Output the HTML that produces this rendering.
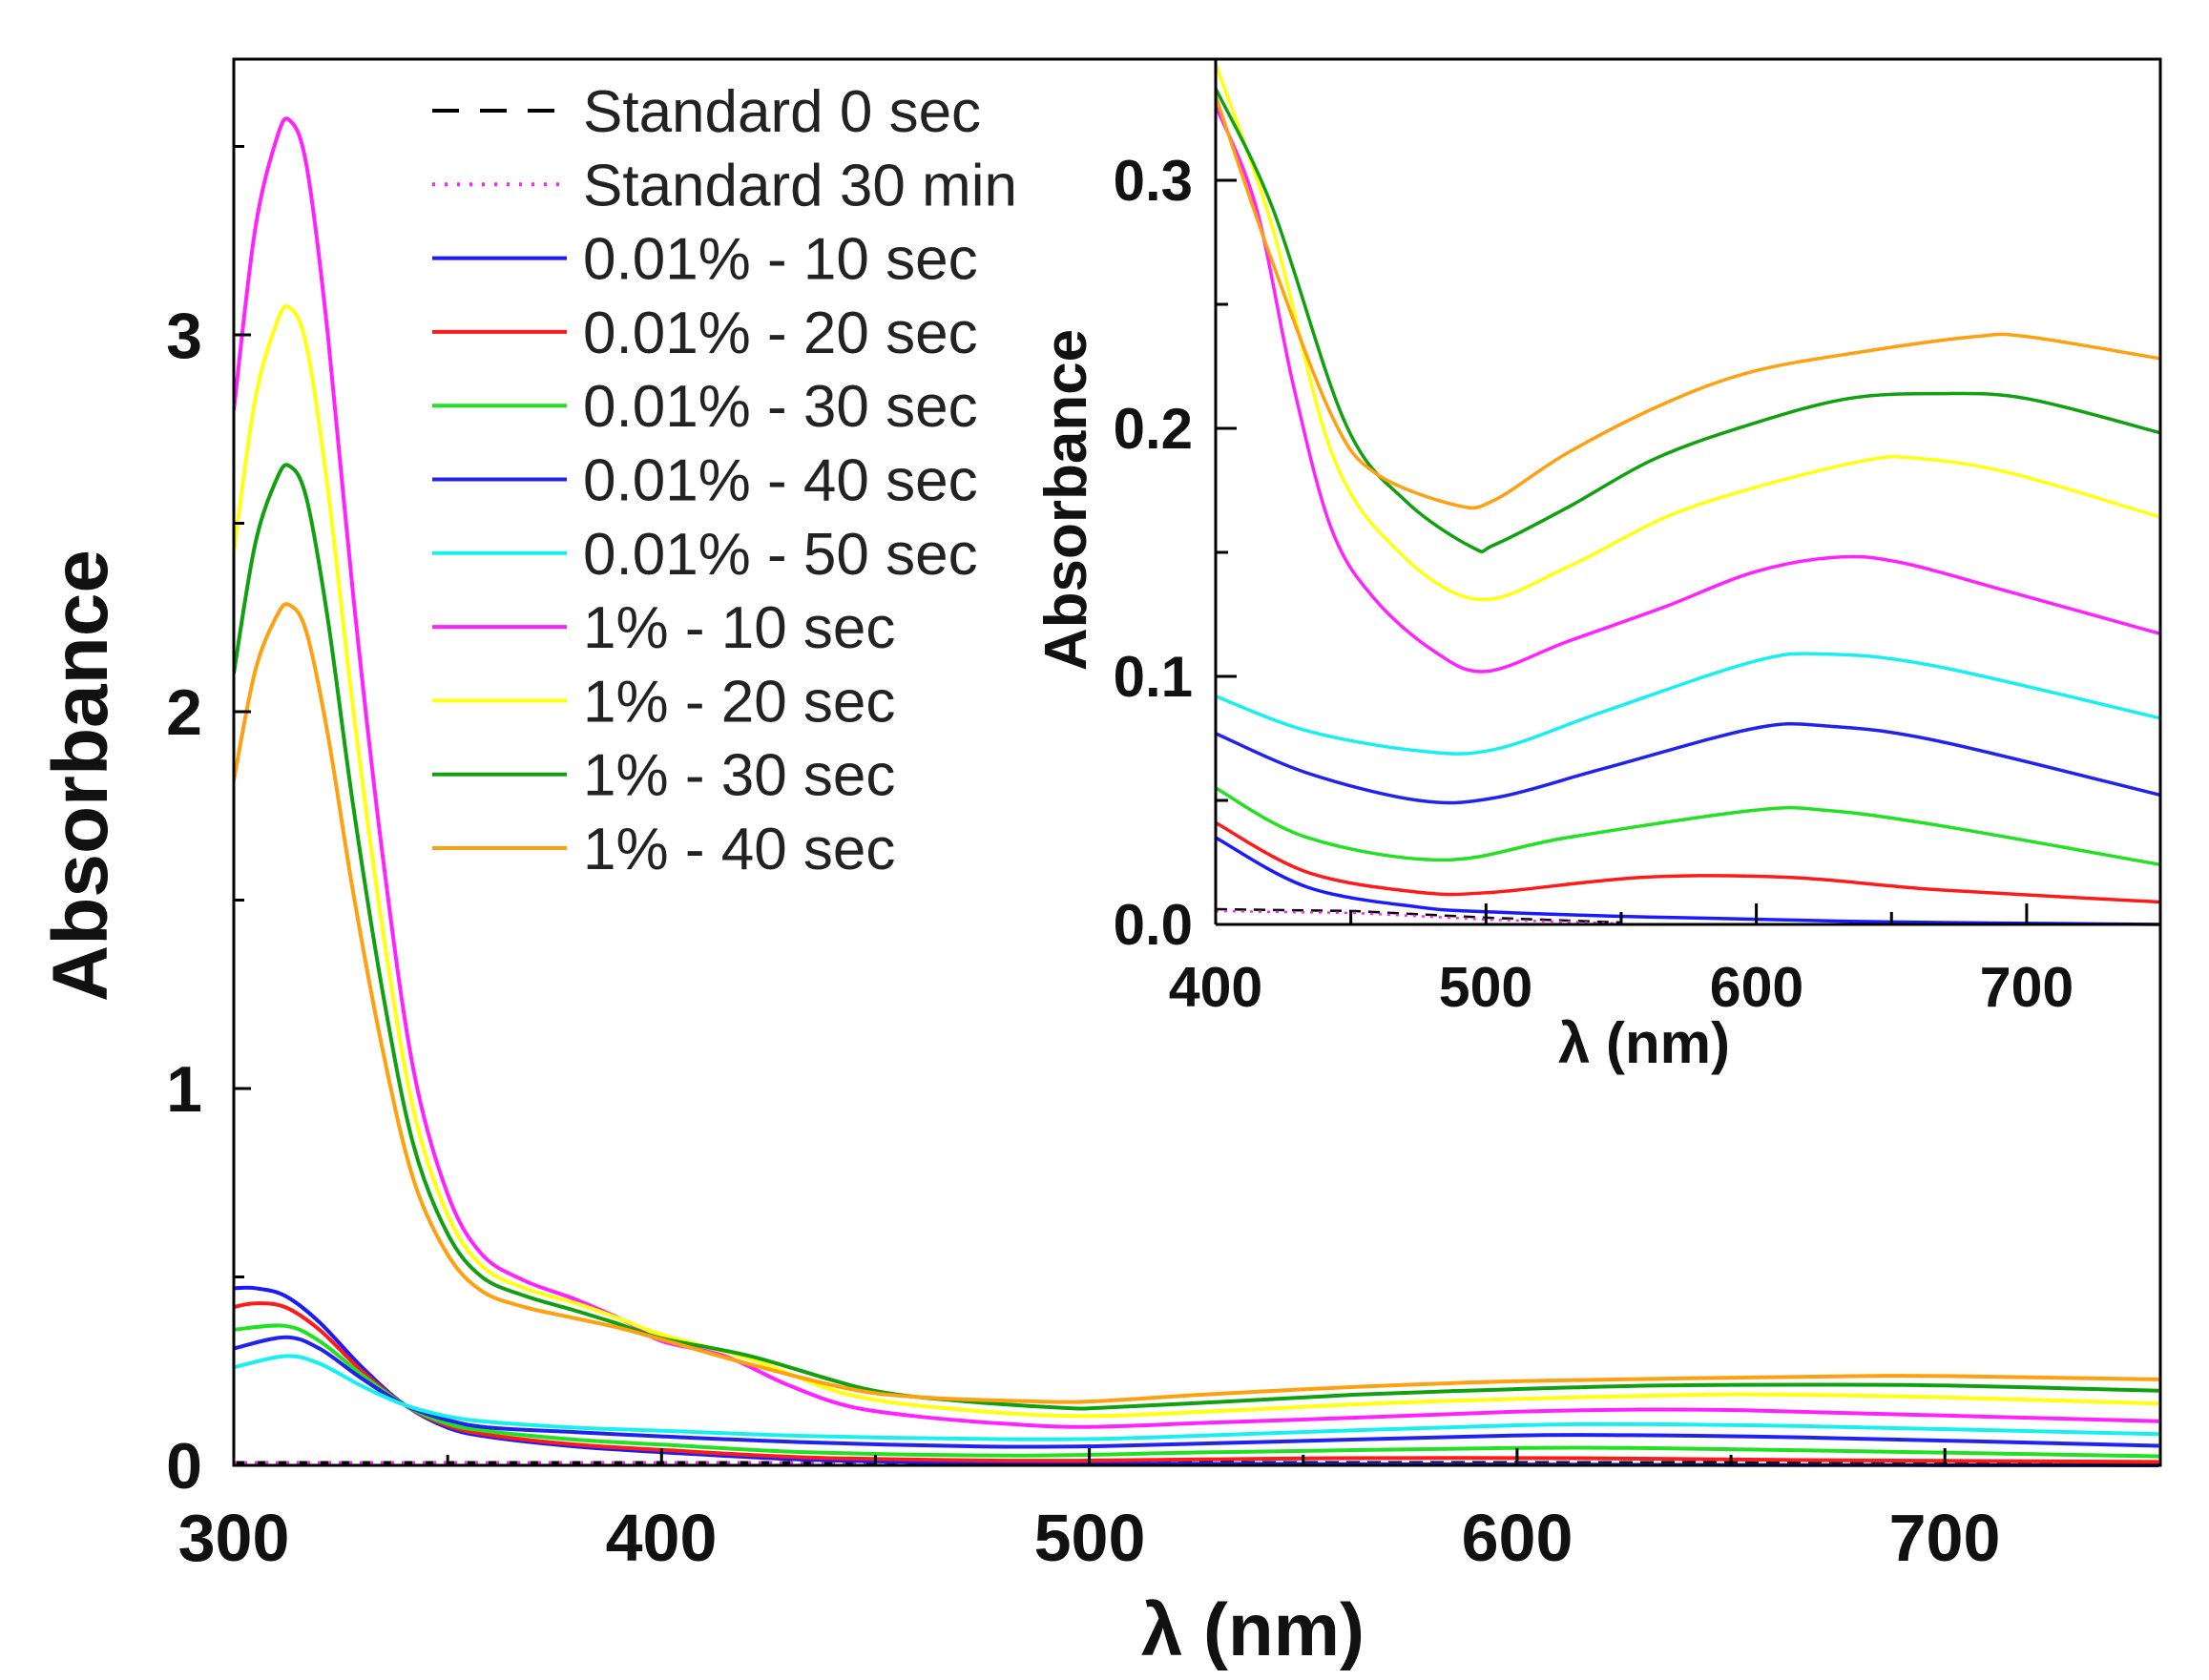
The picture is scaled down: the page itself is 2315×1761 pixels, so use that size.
<!DOCTYPE html>
<html><head><meta charset="utf-8"><style>
html,body{margin:0;padding:0;background:#fff;}
svg{display:block;font-family:"Liberation Sans",Arial,sans-serif;}
</style></head><body>
<svg id="s" width="2315" height="1761" viewBox="0 0 2315 1761" xmlns="http://www.w3.org/2000/svg">
<defs>
<clipPath id="cm"><rect x="245" y="62" width="2019" height="1476"/></clipPath>
<clipPath id="ci"><rect x="1274" y="62" width="990" height="909"/></clipPath>
</defs>
<g id="main" clip-path="url(#cm)"></g>
<g id="ins" clip-path="url(#ci)"></g>
<rect x="245" y="62" width="2019" height="1474" fill="none" stroke="#000" stroke-width="3"/>
<g stroke="#000" stroke-width="3" id="mt"></g>
<line x1="1274" y1="62" x2="1274" y2="969" stroke="#000" stroke-width="3"/>
<line x1="1274" y1="969" x2="2264" y2="969" stroke="#000" stroke-width="3"/>
<g stroke="#000" stroke-width="3" id="it"></g>
<g font-weight="bold" font-size="68" text-anchor="end" fill="#111">
<text x="212" y="1560">0</text><text x="212" y="1165">1</text><text x="212" y="770">2</text><text x="212" y="375">3</text>
</g>
<g font-weight="bold" font-size="70" text-anchor="middle" fill="#111">
<text x="245" y="1636">300</text><text x="693" y="1636">400</text><text x="1142" y="1636">500</text><text x="1590" y="1636">600</text><text x="2038" y="1636">700</text>
</g>
<text x="1313" y="1735" font-size="78" font-weight="bold" text-anchor="middle" fill="#111">λ (nm)</text>
<text transform="translate(112,813) rotate(-90)" font-size="82" font-weight="bold" text-anchor="middle" fill="#111">Absorbance</text>
<g font-weight="bold" font-size="60" text-anchor="end" fill="#111">
<text x="1250" y="990">0.0</text><text x="1250" y="730">0.1</text><text x="1250" y="470">0.2</text><text x="1250" y="210">0.3</text>
</g>
<g font-weight="bold" font-size="59" text-anchor="middle" fill="#111">
<text x="1274" y="1055">400</text><text x="1557" y="1055">500</text><text x="1841" y="1055">600</text><text x="2124" y="1055">700</text>
</g>
<text x="1723" y="1114" font-size="60" font-weight="bold" text-anchor="middle" fill="#111">λ (nm)</text>
<text transform="translate(1138,524) rotate(-90)" font-size="62" font-weight="bold" text-anchor="middle" fill="#111">Absorbance</text>
<g id="leg" font-size="62" fill="#222"></g>
</svg>
<script>
var NS="http://www.w3.org/2000/svg";
function el(p,t,a){var e=document.createElementNS(NS,t);for(var k in a)e.setAttribute(k,a[k]);p.appendChild(e);return e;}
var mag=[[300,2.8],[305,3.28],[310,3.52],[313,3.57],[317,3.45],[322,3.0],[328,2.3],[335,1.6],[342,1.05],[350,0.72],[358,0.56],[368,0.49]];
function sc(o,f){return mag.map(function(p){return [p[0],o+(p[1]-0.49)*f];});}
var ins={
 mag:[[400,0.33],[415,0.289],[429,0.216],[443,0.159],[459,0.131],[481,0.11],[500,0.102],[530,0.114],[566,0.128],[599,0.142],[629,0.148],[653,0.146],[694,0.134],[750,0.117]],
 yel:[[400,0.347],[421,0.281],[443,0.19],[467,0.151],[497,0.131],[530,0.144],[566,0.164],[599,0.176],[640,0.187],[659,0.188],[694,0.182],[750,0.164]],
 grn:[[400,0.337],[421,0.289],[448,0.202],[470,0.171],[495,0.152],[503,0.153],[530,0.168],[563,0.188],[599,0.202],[634,0.212],[667,0.214],[700,0.212],[750,0.198]],
 org:[[400,0.334],[420,0.27],[443,0.205],[459,0.182],[489,0.169],[503,0.171],[530,0.19],[566,0.21],[599,0.223],[640,0.231],[681,0.237],[700,0.237],[750,0.228]],
 cy:[[400,0.092],[434,0.078],[475,0.070],[503,0.0705],[544,0.086],[599,0.106],[626,0.109],[667,0.104],[750,0.083]],
 b40:[[400,0.077],[434,0.061],[475,0.050],[503,0.051],[544,0.063],[599,0.079],[626,0.080],[667,0.074],[750,0.052]],
 g01:[[400,0.055],[434,0.035],[484,0.026],[530,0.035],[599,0.046],[626,0.046],[667,0.04],[750,0.024]],
 red:[[400,0.041],[434,0.021],[475,0.013],[503,0.013],[558,0.019],[612,0.019],[667,0.014],[750,0.009]],
 b10:[[400,0.035],[434,0.015],[475,0.007],[503,0.005],[560,0.003],[650,0.001],[750,0.0]]
};
var pre={
 mag:mag.concat([[380,0.44],[392,0.38]]),
 yel:sc(0.47,0.845).concat([[380,0.43],[390,0.39]]),
 grn:sc(0.45,0.715).concat([[380,0.41],[390,0.375]]),
 org:sc(0.42,0.605).concat([[380,0.39],[390,0.365]]),
 b10:[[300,0.47],[305,0.47],[312,0.45],[320,0.38],[330,0.26],[340,0.16],[350,0.1],[360,0.075],[380,0.05]],
 red:[[300,0.42],[305,0.43],[312,0.42],[320,0.36],[330,0.25],[340,0.16],[350,0.105],[360,0.08],[380,0.055]],
 g01:[[300,0.36],[312,0.37],[320,0.33],[330,0.24],[340,0.16],[350,0.11],[360,0.09],[380,0.068]],
 b40:[[300,0.31],[312,0.34],[320,0.31],[330,0.23],[340,0.16],[350,0.12],[360,0.1],[380,0.088]],
 cy:[[300,0.26],[312,0.29],[320,0.27],[330,0.21],[340,0.16],[350,0.13],[360,0.115],[380,0.1]]
};
var col={b10:"#1a1aff",red:"#ff1a1a",g01:"#22e022",b40:"#2222ee",cy:"#18f0f0",mag:"#ff22ff",yel:"#ffff10",grn:"#10a010",org:"#ffa010"};
var order=["b10","red","g01","b40","cy","mag","yel","grn","org"];
function path(pts,fx,fy){
 var P=pts.map(function(p){return [fx(p[0]),fy(p[1])];});
 var d="M"+P[0][0].toFixed(1)+","+P[0][1].toFixed(1);
 for(var i=0;i<P.length-1;i++){
  var p0=P[i-1]||P[i],p1=P[i],p2=P[i+1],p3=P[i+2]||P[i+1];
  var c1=[p1[0]+(p2[0]-p0[0])/6,p1[1]+(p2[1]-p0[1])/6],c2=[p2[0]-(p3[0]-p1[0])/6,p2[1]-(p3[1]-p1[1])/6];
  d+="C"+c1[0].toFixed(1)+","+c1[1].toFixed(1)+" "+c2[0].toFixed(1)+","+c2[1].toFixed(1)+" "+p2[0].toFixed(1)+","+p2[1].toFixed(1);
 }
 return d;
}
var mx=function(l){return 245+(l-300)*4.483;}, my=function(a){return 1536-a*395;};
var ix=function(l){return 1274+(l-400)*2.833;}, iy=function(a){return 969-a*2600;};
var gm=document.getElementById("main"),gi=document.getElementById("ins");
el(gm,"line",{x1:245,y1:1533,x2:2264,y2:1533,stroke:"#000","stroke-width":3,"stroke-dasharray":"14,8"});
el(gm,"line",{x1:245,y1:1533,x2:1000,y2:1533,stroke:"#ff22ff","stroke-width":3,"stroke-dasharray":"3,8"});
el(gi,"path",{d:"M1274,953 L1420,955 L1560,962 L1700,967",fill:"none",stroke:"#000","stroke-width":2.5,"stroke-dasharray":"12,8"});
el(gi,"path",{d:"M1274,955 L1420,957 L1560,964 L1700,968",fill:"none",stroke:"#ff22ff","stroke-width":2.5,"stroke-dasharray":"3,6"});
order.forEach(function(k){
 var full=pre[k].concat(ins[k]);
 el(gm,"path",{d:path(full,mx,my),fill:"none",stroke:col[k],"stroke-width":4});
 el(gi,"path",{d:path(ins[k],ix,iy),fill:"none",stroke:col[k],"stroke-width":3.5});
});
var mt=document.getElementById("mt");
[0,0.5,1,1.5,2,2.5,3,3.5].forEach(function(a,i){var L=(i%2==0)?18:11;el(mt,"line",{x1:245,y1:my(a),x2:245+L,y2:my(a)});});
[350,400,450,500,550,600,650,700].forEach(function(l,i){var L=(i%2==1)?18:11;el(mt,"line",{x1:mx(l),y1:1536,x2:mx(l),y2:1536-L});});
var it=document.getElementById("it");
[0,0.05,0.1,0.15,0.2,0.25,0.3].forEach(function(a,i){var L=(i%2==0)?22:13;el(it,"line",{x1:1274,y1:iy(a),x2:1274+L,y2:iy(a)});});
[450,500,550,600,650,700].forEach(function(l,i){var L=(i%2==1)?22:13;el(it,"line",{x1:ix(l),y1:969,x2:ix(l),y2:969-L});});
var lg=document.getElementById("leg");
var items=[["Standard 0 sec","#000","28,22"],["Standard 30 min","#ff22ff","3,10"],["0.01% - 10 sec",col.b10],["0.01% - 20 sec",col.red],["0.01% - 30 sec",col.g01],["0.01% - 40 sec",col.b40],["0.01% - 50 sec",col.cy],["1% - 10 sec",col.mag],["1% - 20 sec",col.yel],["1% - 30 sec",col.grn],["1% - 40 sec",col.org]];
items.forEach(function(it2,i){var y=116+i*77.3;
 var a={x1:453,y1:y,x2:594,y2:y,stroke:it2[1],"stroke-width":4};if(it2[2])a["stroke-dasharray"]=it2[2];
 el(lg,"line",a);var t=el(lg,"text",{x:611,y:y+22});t.textContent=it2[0];});
</script>
</body></html>
